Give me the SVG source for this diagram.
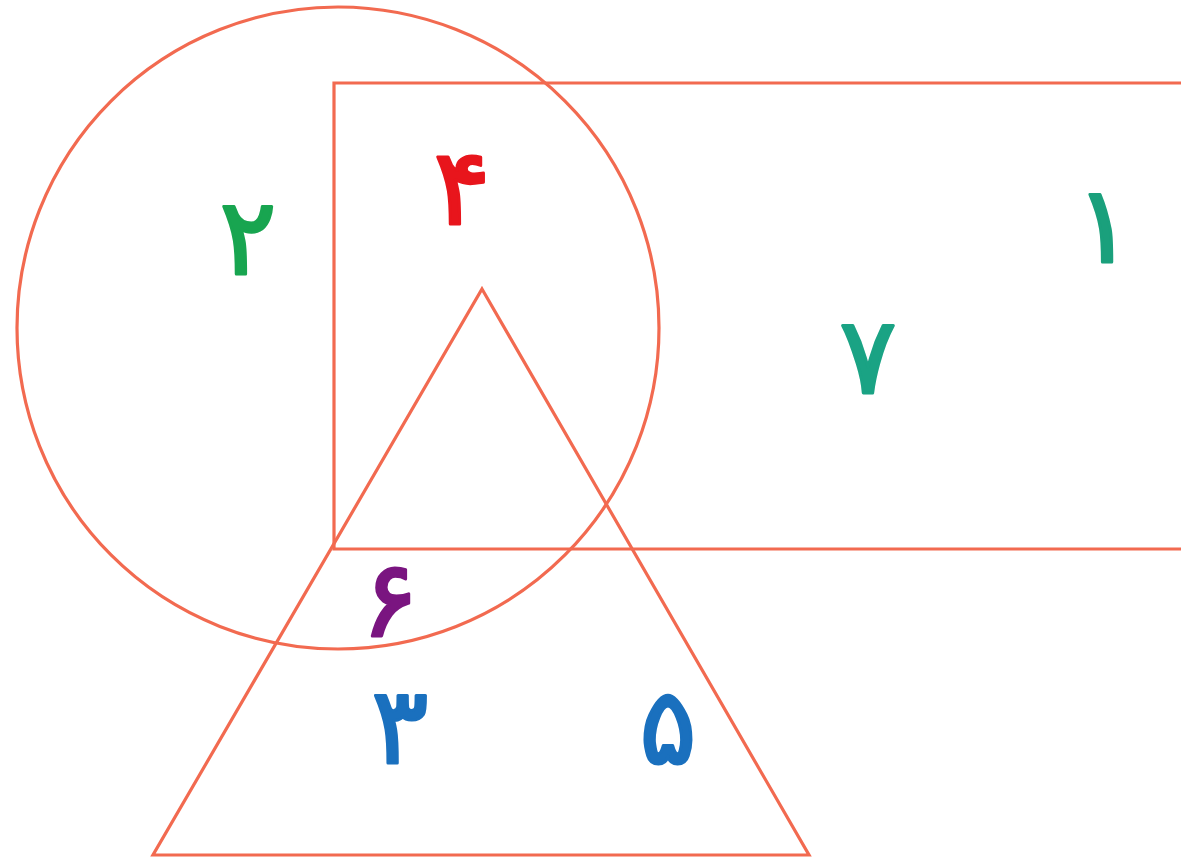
<svg xmlns="http://www.w3.org/2000/svg" width="1181" height="859" viewBox="0 0 1181 859">
<style>
.s{fill:none;stroke:#f26a50;stroke-width:3.2}
.d{font-family:"DejaVu Sans",sans-serif;font-weight:normal;font-size:106px;text-anchor:middle;stroke-width:3;stroke-linejoin:round}
</style>
<rect width="1181" height="859" fill="#ffffff"/>
<g id="shapes">
<g id="rectangle"><path class="s" d="M1185,83 L334,83 L334,549 L1185,549"/></g>
<g id="circle"><circle class="s" cx="338" cy="328" r="321"/></g>
<g id="triangle"><polygon class="s" points="482,289 809,855 153,855"/></g>
</g>
<g id="labels">
<text class="d" x="248" y="274" fill="#18a550" stroke="#18a550">۲</text>
<text class="d" x="462" y="224" fill="#e8151c" stroke="#e8151c">۴</text>
<text class="d" x="1104" y="262" fill="#1aa07c" stroke="#1aa07c">۱</text>
<text class="d" x="868" y="393" fill="#1aa384" stroke="#1aa384">۷</text>
<text class="d" x="390" y="636" fill="#7a1580" stroke="#7a1580">۶</text>
<text class="d" x="400" y="763" fill="#1a70be" stroke="#1a70be">۳</text>
<text class="d" x="668" y="763" fill="#1a70be" stroke="#1a70be">۵</text>
</g>
</svg>
